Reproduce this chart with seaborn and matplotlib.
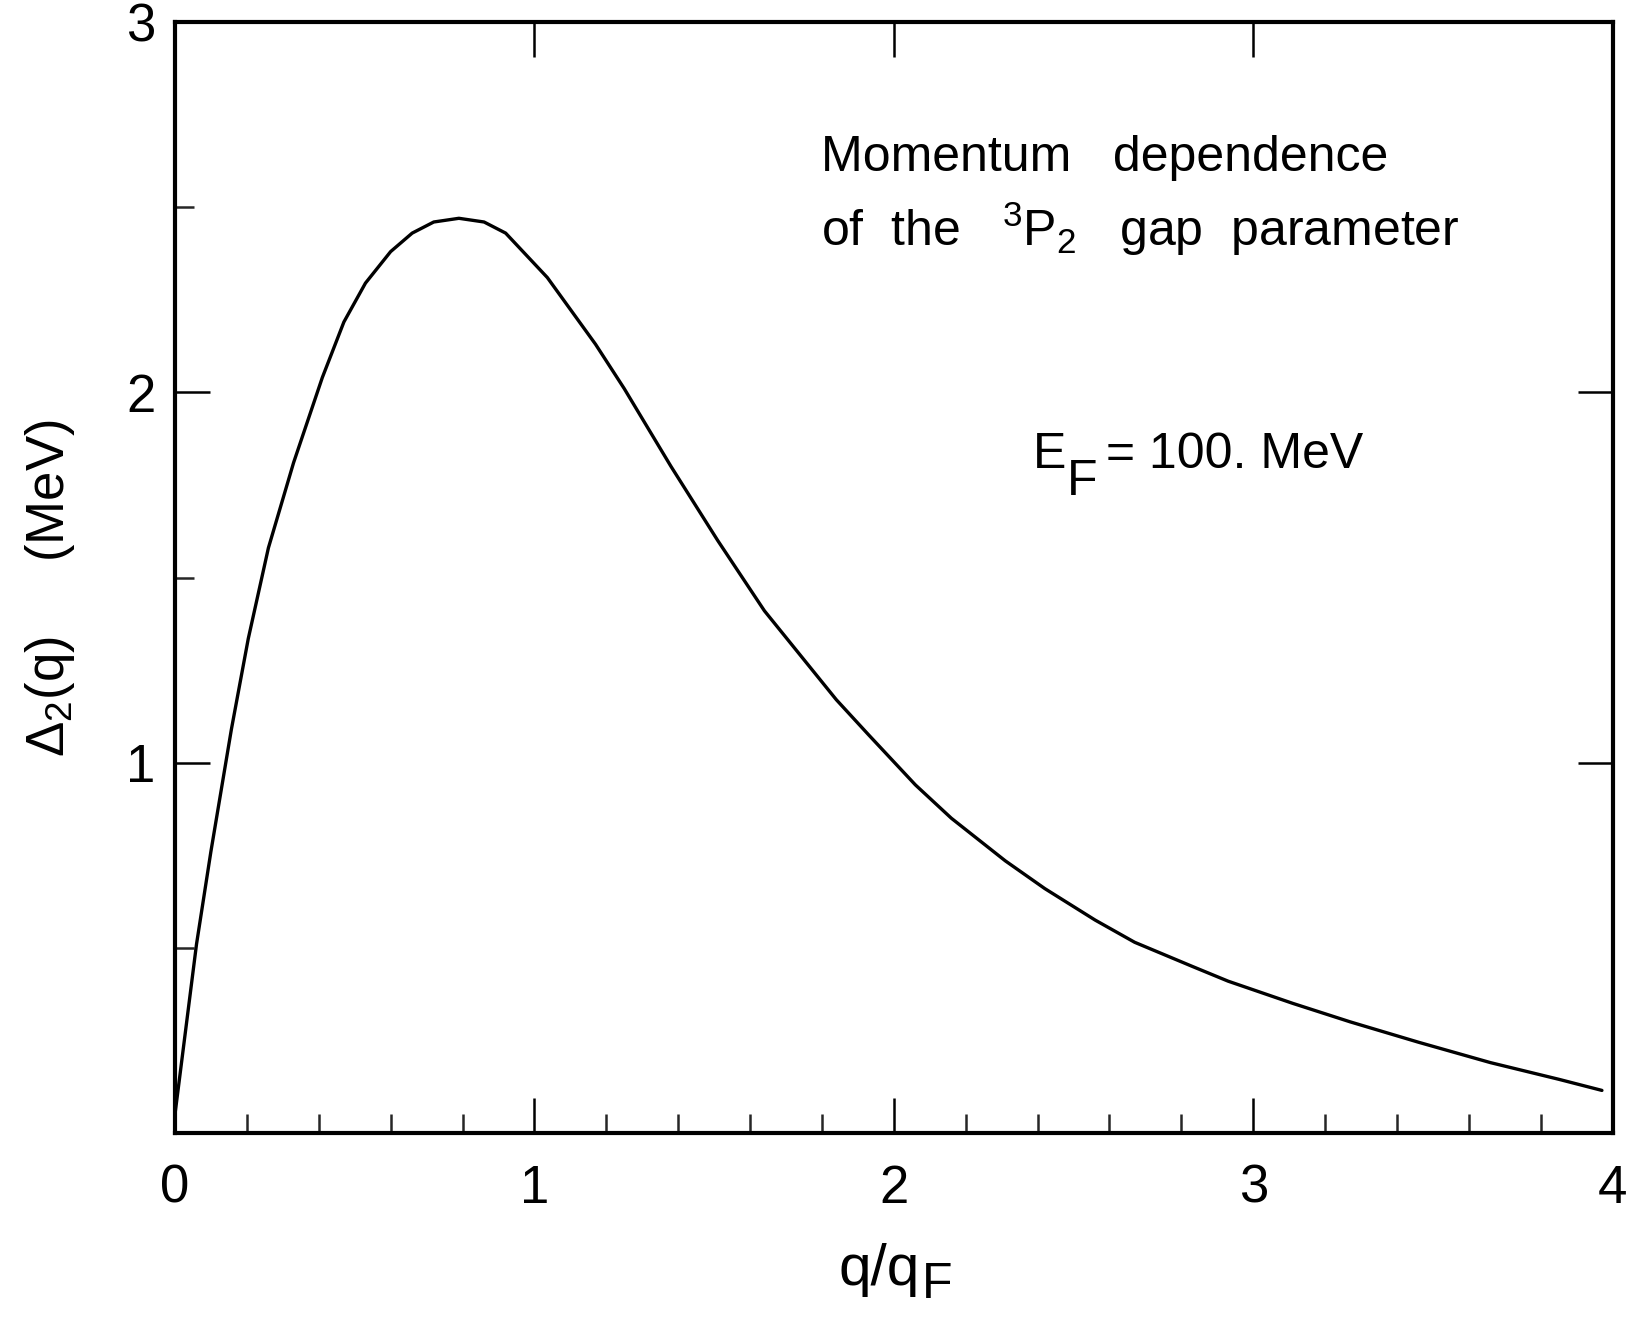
import numpy as np
import matplotlib
matplotlib.use('Agg')
import matplotlib.pyplot as plt
import seaborn as sns

# Curve: momentum q/q_F vs gap Delta_2(q) in MeV
q_ratio = [0.0, 0.03, 0.06, 0.10, 0.157, 0.18, 0.204, 0.26, 0.33, 0.41, 0.47,
           0.53, 0.60, 0.66, 0.72, 0.79, 0.86, 0.92, 1.036, 1.17, 1.25, 1.38,
           1.51, 1.64, 1.84, 1.93, 2.06, 2.16, 2.31, 2.42, 2.56, 2.67, 2.83,
           2.93, 3.11, 3.27, 3.46, 3.66, 3.85, 3.97]
gap_mev = [0.05, 0.28, 0.51, 0.76, 1.09, 1.21, 1.335, 1.58, 1.81, 2.04, 2.19,
           2.295, 2.38, 2.43, 2.46, 2.47, 2.46, 2.43, 2.31, 2.13, 2.01, 1.80,
           1.60, 1.41, 1.17, 1.075, 0.94, 0.85, 0.735, 0.66, 0.575, 0.515,
           0.45, 0.41, 0.35, 0.30, 0.245, 0.19, 0.145, 0.115]

x_ticks = [0, 1, 2, 3, 4]
x_ticklabels = ['0', '1', '2', '3', '4']
y_ticks = [0, 1, 2, 3]
y_ticklabels = ['', '1', '2', '3']

sns.set_theme(style='ticks')
plt.rcParams['font.family'] = ['Liberation Sans', 'DejaVu Sans']
plt.rcParams['mathtext.fontset'] = 'custom'
plt.rcParams['mathtext.rm'] = 'Liberation Sans'
plt.rcParams['mathtext.it'] = 'Liberation Sans:italic'
plt.rcParams['text.color'] = 'black'
plt.rcParams['axes.labelcolor'] = 'black'

fig = plt.figure(figsize=(16.29, 13.27), dpi=100)
ax = fig.add_axes([0.1074, 0.1462, 0.8826, 0.8372])

sns.lineplot(x=q_ratio, y=gap_mev, color='black', linewidth=2.4, ax=ax)

ax.set_xlim(0, 4)
ax.set_ylim(0, 3)
ax.set_xticks(x_ticks)
ax.set_xticklabels(x_ticklabels)
ax.set_yticks(y_ticks)
ax.set_yticklabels(y_ticklabels)
ax.set_xticks(np.arange(0, 4.01, 0.2), minor=True)
ax.set_yticks([0.5, 1.5, 2.5], minor=True)

for s in ax.spines.values():
    s.set_linewidth(3)
    s.set_color('black')

ax.tick_params(which='major', direction='in', length=25, width=1.8,
               top=True, right=True, labelsize=38, colors='black')
ax.tick_params(which='minor', direction='in', length=14, width=1.8,
               top=False, right=False)
ax.tick_params(axis='x', which='major', pad=22)
ax.tick_params(axis='y', which='major', pad=14)

# x label: q/q with a full-size, lowered F
ax.set_xlabel('q/q', fontsize=42)
ax.xaxis.set_label_coords(0.49, -0.099)
ax.annotate('F', xy=(1, 0), xycoords=ax.xaxis.label, xytext=(1, -8),
            textcoords='offset points', fontsize=36, ha='left', va='bottom')

ax.set_ylabel('$\\mathit{\\Delta}_{2}$(q)     (MeV)', fontsize=38)
ax.yaxis.set_label_coords(-0.068, 0.49)

ax.text(0.449, 0.866, 'Momentum   dependence', transform=ax.transAxes,
        fontsize=36, ha='left', va='baseline')
ax.text(0.449, 0.798, 'of  the   $^{3}$P$_{2}$   gap  parameter',
        transform=ax.transAxes, fontsize=36, ha='left', va='baseline')

# E_F = 100. MeV with a full-size, lowered F
t_e = ax.text(0.597, 0.599, 'E', transform=ax.transAxes,
              fontsize=36, ha='left', va='baseline')
ax.annotate('F', xy=(1, 0), xycoords=t_e, xytext=(0, -20),
            textcoords='offset points', fontsize=36, ha='left', va='bottom')
ax.annotate(' = 100. MeV', xy=(1, 0), xycoords=t_e, xytext=(18, 0),
            textcoords='offset points', fontsize=36, ha='left', va='bottom')

fig.savefig('out.png', dpi=100, facecolor='white')
